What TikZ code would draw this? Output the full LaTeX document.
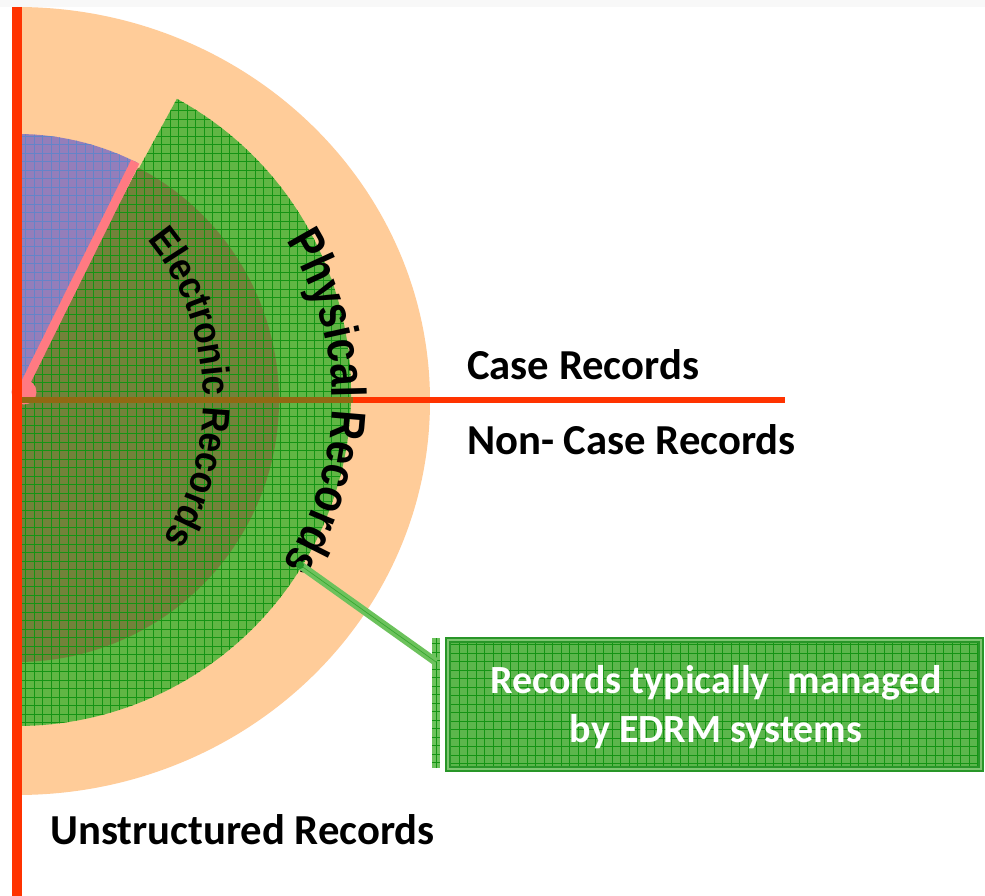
\documentclass[tikz,border=0pt]{standalone}
\usepackage{fontspec}
\setmainfont{Carlito}
\newfontfamily\elfont{Liberation Sans}[UprightFont={* Bold}, FakeStretch=0.9]
\newfontfamily\phfont{Liberation Sans}[UprightFont={* Bold}, FakeStretch=0.835]
\usetikzlibrary{decorations.text,calc}
\definecolor{orng}{RGB}{255,204,153}
\definecolor{lgreen}{RGB}{96,182,68}
\definecolor{dgreen}{RGB}{114,130,58}
\definecolor{gridg}{RGB}{20,148,20}
\definecolor{bluef}{RGB}{148,126,186}
\definecolor{gridb}{RGB}{100,132,200}
\definecolor{pinkl}{RGB}{255,122,130}
\definecolor{redl}{RGB}{255,51,0}
\definecolor{olive}{RGB}{145,105,18}
\definecolor{conng}{RGB}{108,194,92}
\definecolor{boxg}{RGB}{92,182,76}
\definecolor{boxb}{RGB}{40,150,40}
\definecolor{topband}{RGB}{248,248,248}
\tikzset{
  gridline/.style={gridg, line width=0.7pt},
  gridblue/.style={gridb, line width=0.7pt},
  lbl/.style={font=\bfseries\fontsize{42.7}{48}\selectfont, inner sep=0pt, text=black},
  gridpic/.style={path picture={\draw[gridline] (path picture bounding box.south west) grid[step=8.5pt] (path picture bounding box.north east);}},
  barstyle/.style={fill=conng, draw=none, inner sep=0pt, gridpic},
  boxstyle/.style={fill=boxg, draw=boxb, line width=2pt, double=boxg!80!white, double distance=2pt, inner sep=0pt, gridpic},
  boxtext/.style={text=white, align=center, inner sep=0pt, font=\bfseries\fontsize{40}{49}\selectfont},
  curvtext/.style={decorate, decoration={text along path, text align=center, text={#1}}}
}
\begin{document}
\begin{tikzpicture}[x=1pt,y=1pt]
\useasboundingbox (0,0) rectangle (985,-896);
\fill[white] (0,0) rectangle (985,-896);
\fill[topband] (0,0) rectangle (985,-7);
% orange half disc
\fill[orng] (17,-7) arc[start angle=90, end angle=-90, x radius=413pt, y radius=394pt] -- cycle;
% blue sector
\begin{scope}
  \clip (17,-400) -- ++(63:266pt) arc[start angle=63, end angle=90, radius=266pt] -- cycle;
  \fill[bluef] (12,-130) rectangle (140,-400);
  \draw[gridblue] (12,-130) grid[step=8.5pt] (140,-400);
\end{scope}
% light green sector (physical)
\begin{scope}
  \clip (17,-392) -- ++(61.4:334pt) arc[start angle=61.4, end angle=-90, radius=334pt] -- cycle;
  \fill[lgreen] (12,-50) rectangle (360,-730);
  \draw[gridline] (12,-50) grid[step=8.5pt] (360,-730);
\end{scope}
% dark sector (electronic)
\begin{scope}
  \clip (17,-400) -- ++(62.5:262pt) arc[start angle=62.5, end angle=-90, radius=262pt] -- cycle;
  \fill[dgreen] (12,-50) rectangle (360,-730);
  \draw[gridline] (12,-50) grid[step=8.5pt] (360,-730);
\end{scope}
% pink divider
\coordinate (ctr) at (20,-394);
\coordinate (ptop) at ($(17,-400)+(63.6:266pt)$);
\draw[pinkl, line width=9pt] (ctr) -- (ptop);
\fill[pinkl] (24,-392) circle[radius=12.5pt];
% horizontal line
\coordinate (hl) at (12,-400);
\coordinate (hr) at (785,-400);
\coordinate (hg) at (353,-400);
\draw[redl, line width=6pt] (hl) -- (hr);
\draw[olive, line width=6pt] (hl) -- (hg);
% vertical line
\coordinate (vt) at (17,-7);
\coordinate (vb) at (17,-896);
\draw[redl, line width=10pt] (vt) -- (vb);
% curved texts
\begin{scope}
\elfont\fontsize{39}{44}\selectfont
\path[curvtext={|\elfont\fontsize{39}{44}\selectfont|Electronic Records}]
  (17,-400) ++(70:186pt and 224pt) arc[start angle=70, end angle=-62, x radius=186pt, y radius=224pt];
\end{scope}
\begin{scope}
\phfont\fontsize{49}{54}\selectfont
\path[curvtext={|\phfont\fontsize{49}{54}\selectfont|Physical Records}]
  (17,-400) ++(61:315pt and 305pt) arc[start angle=61, end angle=-62, x radius=315pt, y radius=305pt];
\end{scope}
% callout
\coordinate (dot) at (300,-565);
\node[barstyle, minimum width=8pt, minimum height=130pt] (bar) at (436,-703) {};
\coordinate (barpt) at (436,-662);
\draw[conng, line width=8pt] (dot) -- (barpt);
\draw[gridg, line width=0.7pt, opacity=0.6] (dot) -- (barpt);
\fill[boxb] (dot) circle[radius=4pt];
\node[boxstyle, minimum width=533pt, minimum height=129pt] (box) at (714,-704) {};
\node[boxtext] (boxlbl) at ($(box.center)+(2,-3)$) {Records typically~ managed\\by EDRM systems};
% labels
\node[lbl, anchor=base west] (case) at (467,-379) {Case Records};
\node[lbl, anchor=base west] (noncase) at (467,-454) {Non- Case Records};
\node[lbl, anchor=base west] (unstr) at (50,-844) {Unstructured Records};
\end{tikzpicture}
\end{document}
